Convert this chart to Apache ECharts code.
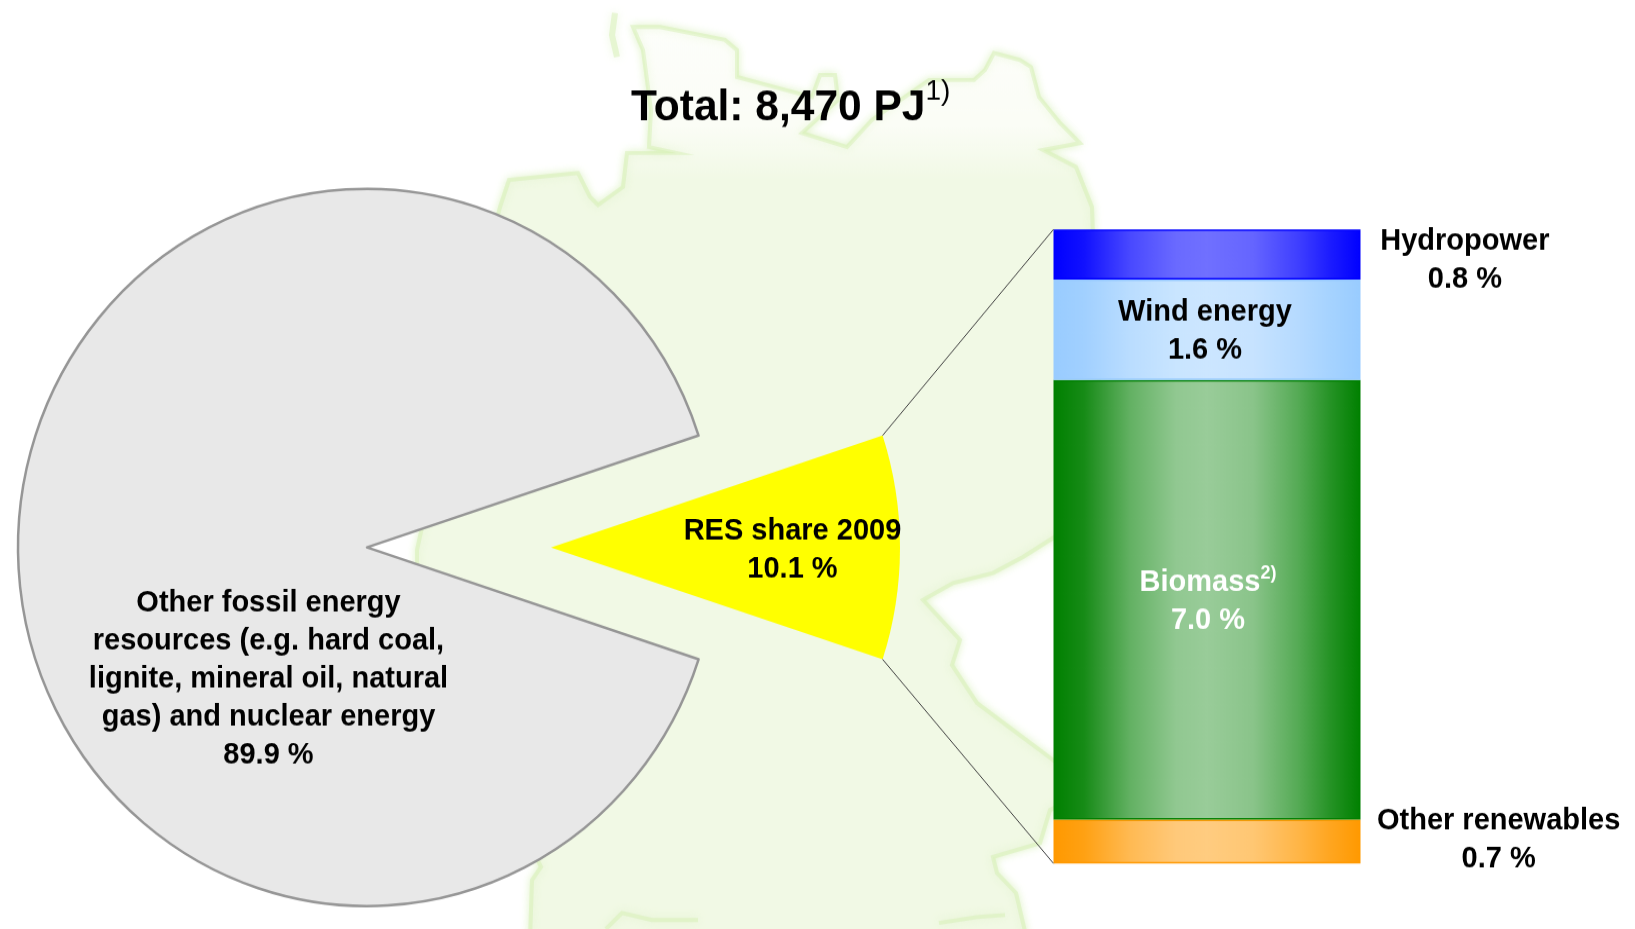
<!DOCTYPE html>
<html>
<head>
<meta charset="utf-8">
<title>RES share 2009</title>
<style>
  html, body { margin: 0; padding: 0; width: 1635px; height: 929px; background: #fff; overflow: hidden; }
  /* the reference is stretched a bit vertically, the pie is really an ellipse */
  #chart { width: 1635px; height: 904px; transform: scaleY(1.02765); transform-origin: 0 0; }
</style>
<script src="https://cdn.jsdelivr.net/npm/echarts@6/dist/echarts.min.js"></script>
</head>
<body>
<div id="chart"></div>
<script>
// pie data
const pieNames = ['RES share 2009', 'Other fossil energy\nresources (e.g. hard coal,\nlignite, mineral oil, natural\ngas) and nuclear energy'];
const pieValues = [10.1, 89.9];

// stacked column, bottom to top
const stackNames = ['Other renewables', 'Biomass', 'Wind energy', 'Hydropower'];
const stackValues = [0.7, 7.0, 1.6, 0.8];
const stackEdge = ['#ff9900', '#008000', '#99ccff', '#0000ff'];
const stackMid = ['#ffcc80', '#99cc99', '#cce6ff', '#7070ff'];

// faint map of Germany behind the chart, in reference pixels
const mapOutline = [[500, 207], [509, 180], [578, 173], [590, 197], [598, 205], [623, 187], [627, 153], [676, 153],
  [649, 147], [651, 110], [643, 50], [633, 27], [660, 27], [725, 40], [737, 50], [737, 77], [774, 87], [812, 97],
  [820, 75], [835, 75], [838, 100], [802, 133], [847, 147], [872, 120], [929, 80], [974, 80], [985, 70], [994, 53],
  [1020, 60], [1031, 67], [1039, 97], [1060, 123], [1080, 143], [1043, 150], [1076, 167], [1092, 207], [1095, 300],
  [1100, 400], [1075, 525], [1053, 538], [1023, 557], [993, 573], [953, 583], [923, 600], [960, 640], [952, 665],
  [977, 703], [1013, 730], [1053, 760], [1090, 790], [1050, 810], [1040, 843], [993, 857], [997, 873], [1016, 893],
  [1027, 940], [530, 940], [532, 880], [541, 867], [470, 720], [417, 590], [417, 550], [450, 400]];
const mapSylt = [[615, 13], [612, 35], [617, 57]];
const mapInner = [[606, 929], [622, 913], [652, 920], [698, 920]];
const mapInner2 = [[939, 923], [977, 917], [1005, 915]];

const yScale = 929 / 904;
const fontFamily = '"Liberation Sans", Arial, sans-serif';
const pieCenter = [367, 547.4 / yScale];
const pieRadius = 349;
const pieOffset = 184;
const gridBox = { left: 1053.5, top: 223.2, width: 307, height: 617 };
const stackTotal = stackValues.reduce((a, b) => a + b, 0);

const textBase = { fontFamily: fontFamily, fontWeight: 'bold', fontSize: 29, lineHeight: 37, color: '#000' };

function mix(a, b, t) {
  const pa = parseInt(a.slice(1), 16);
  const pb = parseInt(b.slice(1), 16);
  const out = [16, 8, 0].map((s) => {
    const ca = (pa >> s) & 255;
    const cb = (pb >> s) & 255;
    return Math.round(ca + (cb - ca) * t);
  });
  return 'rgb(' + out.join(',') + ')';
}

// how far each column goes from edge colour to middle colour, left to right
const shadeStops = [[0, 0], [0.1, 0.15], [0.25, 0.65], [0.4, 0.95], [0.5, 1], [0.65, 0.9], [0.8, 0.55], [0.9, 0.25], [1, 0]];

function columnLabel(i) {
  const pct = stackValues[i].toFixed(1) + ' %';
  if (i === 0) {
    return { show: true, position: ['145%', '47%'], align: 'center', verticalAlign: 'middle', ...textBase, formatter: stackNames[i] + '\n' + pct };
  }
  if (i === 3) {
    return { show: true, position: ['134%', '63%'], align: 'center', verticalAlign: 'middle', ...textBase, formatter: stackNames[i] + '\n' + pct };
  }
  if (i === 1) {
    return {
      show: true, position: 'inside', offset: [1, 2],
      formatter: '{w|' + stackNames[i] + '}{s|2)}\n{w|' + pct + '}',
      rich: {
        w: { ...textBase, color: '#fff' },
        s: { ...textBase, color: '#fff', fontSize: 18, verticalAlign: 'top', lineHeight: 26 },
      },
    };
  }
  return { show: true, position: 'inside', offset: [-2, 2], ...textBase, formatter: stackNames[i] + '\n' + pct };
}

const columnSeries = stackNames.map((name, i) => ({
  name: name,
  type: 'bar',
  stack: 'res',
  barWidth: '100%',
  barCategoryGap: 0,
  silent: true,
  z: 3,
  data: [stackValues[i]],
  itemStyle: {
    color: {
      type: 'linear', x: 0, y: 0, x2: 1, y2: 0,
      colorStops: shadeStops.map((s) => ({ offset: s[0], color: mix(stackEdge[i], stackMid[i], s[1]) })),
    },
    borderColor: stackEdge[i],
    borderWidth: 1.5,
  },
  label: columnLabel(i),
}));

const mapStroke = { stroke: 'rgba(214,240,180,0.5)', lineWidth: 4, shadowBlur: 9, shadowColor: 'rgba(214,240,180,0.8)' };

const chart = echarts.init(document.getElementById('chart'), null, { renderer: 'canvas' });
chart.setOption({
  animation: false,
  backgroundColor: '#fff',
  title: {
    text: '{a|Total: 8,470 PJ}{b|1)}',
    left: 631,
    top: 75,
    padding: 0,
    textStyle: {
      rich: {
        a: { fontFamily: fontFamily, fontWeight: 'bold', fontSize: 42.5, lineHeight: 60, color: '#000' },
        b: { fontFamily: fontFamily, fontWeight: 'normal', fontSize: 28, color: '#000', verticalAlign: 'top', lineHeight: 24 },
      },
    },
  },
  grid: gridBox,
  xAxis: { type: 'category', data: ['RES'], show: false },
  yAxis: { type: 'value', min: 0, max: stackTotal, show: false },
  series: [
    {
      name: 'Primary energy',
      type: 'pie',
      center: pieCenter,
      radius: [0, pieRadius],
      startAngle: pieValues[0] * 3.6 / 2,
      clockwise: true,
      silent: true,
      selectedMode: 'single',
      selectedOffset: pieOffset,
      labelLine: { show: false },
      // offset is ignored on the pulled out slice
      labelLayout: (p) => (p.dataIndex === 0 ? { dx: 64, dy: 3 } : {}),
      z: 2,
      data: [
        {
          name: pieNames[0], value: pieValues[0], selected: true,
          itemStyle: { color: '#ffff00', borderWidth: 0 },
          label: { show: true, position: 'inside', ...textBase },
        },
        {
          name: pieNames[1], value: pieValues[1],
          itemStyle: { color: '#e8e8e8', borderColor: '#969696', borderWidth: 2.5 },
          label: { show: true, position: 'inside', offset: [79, 128], ...textBase },
        },
      ],
      label: {
        formatter: (p) => p.name + '\n' + p.value.toFixed(1) + ' %',
      },
    },
    ...columnSeries,
  ],
});

// map and leader lines need the finished layout
const half = pieValues[0] * 3.6 / 2 * Math.PI / 180;
const tipX = pieCenter[0] + pieOffset + pieRadius * Math.cos(half);
const tipDy = pieRadius * Math.sin(half);
const colTop = chart.convertToPixel({ yAxisIndex: 0 }, stackTotal);
const colBottom = chart.convertToPixel({ yAxisIndex: 0 }, 0);

chart.setOption({
  graphic: [
    {
      type: 'group', z: -1, scaleY: 1 / yScale, silent: true,
      children: [
        {
          type: 'polygon',
          shape: { points: mapOutline },
          style: {
            ...mapStroke,
            fill: {
              type: 'linear', x: 0, y: 0, x2: 0, y2: 1,
              colorStops: [
                { offset: 0, color: '#fdfefb' },
                { offset: 0.11, color: '#fbfdf6' },
                { offset: 0.17, color: '#f1f9e5' },
                { offset: 1, color: '#f1f9e5' },
              ],
            },
          },
        },
        { type: 'polyline', shape: { points: mapSylt }, style: { ...mapStroke, fill: null, lineWidth: 6 } },
        { type: 'polyline', shape: { points: mapInner }, style: { ...mapStroke, fill: null } },
        { type: 'polyline', shape: { points: mapInner2 }, style: { ...mapStroke, fill: null } },
      ],
    },
    {
      type: 'line', z: 10, silent: true,
      shape: { x1: tipX, y1: pieCenter[1] - tipDy, x2: gridBox.left, y2: colTop },
      style: { stroke: '#404040', lineWidth: 1 },
    },
    {
      type: 'line', z: 10, silent: true,
      shape: { x1: tipX, y1: pieCenter[1] + tipDy, x2: gridBox.left, y2: colBottom },
      style: { stroke: '#404040', lineWidth: 1 },
    },
  ],
});
</script>
</body>
</html>
